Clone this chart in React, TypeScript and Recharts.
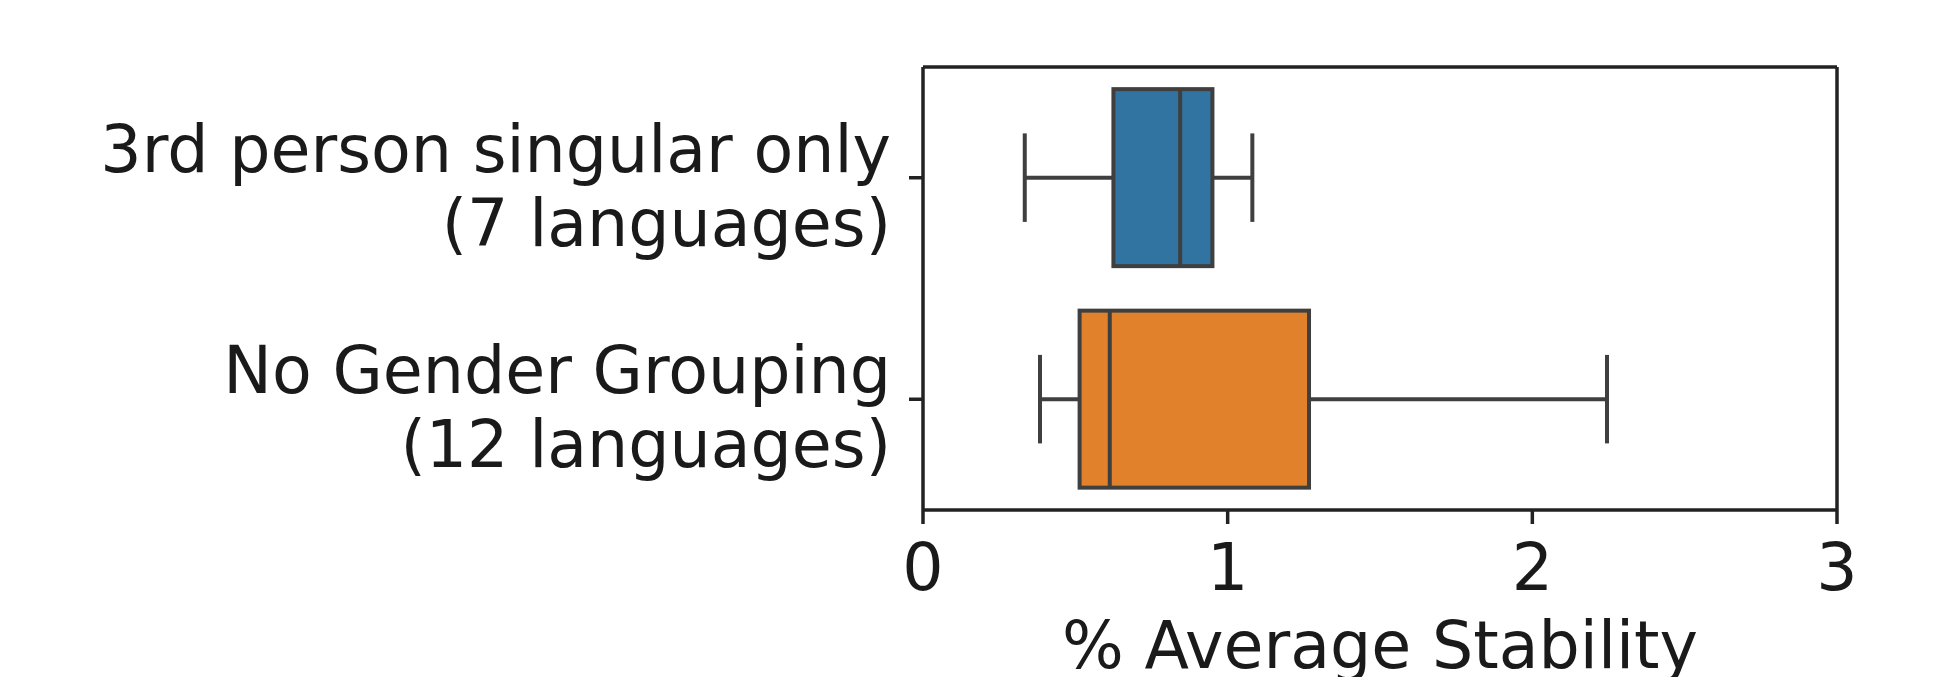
import React from 'react';
import { ComposedChart, Bar, XAxis, YAxis } from 'recharts';

// Box-plot summary per group
const categories = ['3rd person singular only\n(7 languages)', 'No Gender Grouping\n(12 languages)'];
const whiskerLow = [0.334, 0.384];
const quartile1 = [0.625, 0.514];
const medians = [0.844, 0.613];
const quartile3 = [0.95, 1.267];
const whiskerHigh = [1.081, 2.245];
const boxColors = ['#3274a1', '#e1812c'];
const xTicks = [0, 1, 2, 3];

const data = categories.map((name, i) => ({
  name,
  range: [whiskerLow[i], whiskerHigh[i]],
  lo: whiskerLow[i],
  q1: quartile1[i],
  med: medians[i],
  q3: quartile3[i],
  hi: whiskerHigh[i],
}));

const FONT = '"DejaVu Sans", sans-serif';
const LINE = '#3f3f3f';
const SPINE = '#222';

// bar spans lo..hi, so everything else is placed along that same scale
const BoxShape = (props: any) => {
  const { x, y, width, height, payload, index } = props;
  const { lo, q1, med, q3, hi } = payload;
  const px = width / (hi - lo);
  const sx = (v: number) => x + (v - lo) * px;
  const cy = y + height / 2;
  const cap = height / 4;
  return (
    <g>
      <line x1={sx(lo)} x2={sx(q1)} y1={cy} y2={cy} stroke={LINE} strokeWidth={4} />
      <line x1={sx(q3)} x2={sx(hi)} y1={cy} y2={cy} stroke={LINE} strokeWidth={4} />
      <line x1={sx(lo)} x2={sx(lo)} y1={cy - cap} y2={cy + cap} stroke={LINE} strokeWidth={4} />
      <line x1={sx(hi)} x2={sx(hi)} y1={cy - cap} y2={cy + cap} stroke={LINE} strokeWidth={4} />
      <rect
        x={sx(q1)}
        y={y}
        width={sx(q3) - sx(q1)}
        height={height}
        fill={boxColors[index % boxColors.length]}
        stroke={LINE}
        strokeWidth={4}
      />
      <line x1={sx(med)} x2={sx(med)} y1={y} y2={y + height} stroke={LINE} strokeWidth={4} />
    </g>
  );
};

const CategoryTick = (props: any) => {
  const { x, y, payload } = props;
  const lines = String(payload.value).split('\n');
  return (
    <text textAnchor="end" fontFamily={FONT} fontSize={65} fill="#1a1a1a">
      <tspan x={x} y={y - 6}>{lines[0]}</tspan>
      <tspan x={x} y={y + 68}>{lines[1]}</tspan>
    </text>
  );
};

const AxisTitle = (props: any) => {
  const vb = props.viewBox || {};
  return (
    <text
      x={vb.x + vb.width / 2}
      y={vb.y + 158}
      textAnchor="middle"
      fontFamily={FONT}
      fontSize={65}
      fill="#1a1a1a"
    >
      % Average Stability
    </text>
  );
};

const App: React.FC = () => {
  return (
    <div style={{ position: 'absolute', left: 0, top: 0, width: 1936, height: 677, background: '#fff' }}>
      <ComposedChart
        width={1936}
        height={677}
        data={data}
        layout="vertical"
        barCategoryGap="10%"
        margin={{ top: 65, right: 97, bottom: 0, left: 0 }}
      >
        <XAxis
          type="number"
          domain={[0, 3]}
          ticks={xTicks}
          height={167}
          tickSize={14}
          tickMargin={20}
          tick={{ fontFamily: FONT, fontSize: 65, fill: '#1a1a1a' }}
          tickLine={{ stroke: SPINE, strokeWidth: 3.5 }}
          axisLine={{ stroke: SPINE, strokeWidth: 3.5 }}
          label={<AxisTitle />}
        />
        <XAxis
          xAxisId="top"
          orientation="top"
          type="number"
          domain={[0, 3]}
          ticks={xTicks}
          height={2}
          tick={false}
          tickLine={false}
          axisLine={{ stroke: SPINE, strokeWidth: 3.5 }}
        />
        <YAxis
          type="category"
          dataKey="name"
          width={923}
          tickSize={14}
          tickMargin={18}
          tick={<CategoryTick />}
          tickLine={{ stroke: SPINE, strokeWidth: 3.5 }}
          axisLine={{ stroke: SPINE, strokeWidth: 3.5 }}
        />
        <YAxis
          yAxisId="right"
          orientation="right"
          type="category"
          dataKey="name"
          width={2}
          tick={false}
          tickLine={false}
          axisLine={{ stroke: SPINE, strokeWidth: 3.5 }}
        />
        <Bar dataKey="range" shape={<BoxShape />} isAnimationActive={false} />
      </ComposedChart>
    </div>
  );
};

export default App;
